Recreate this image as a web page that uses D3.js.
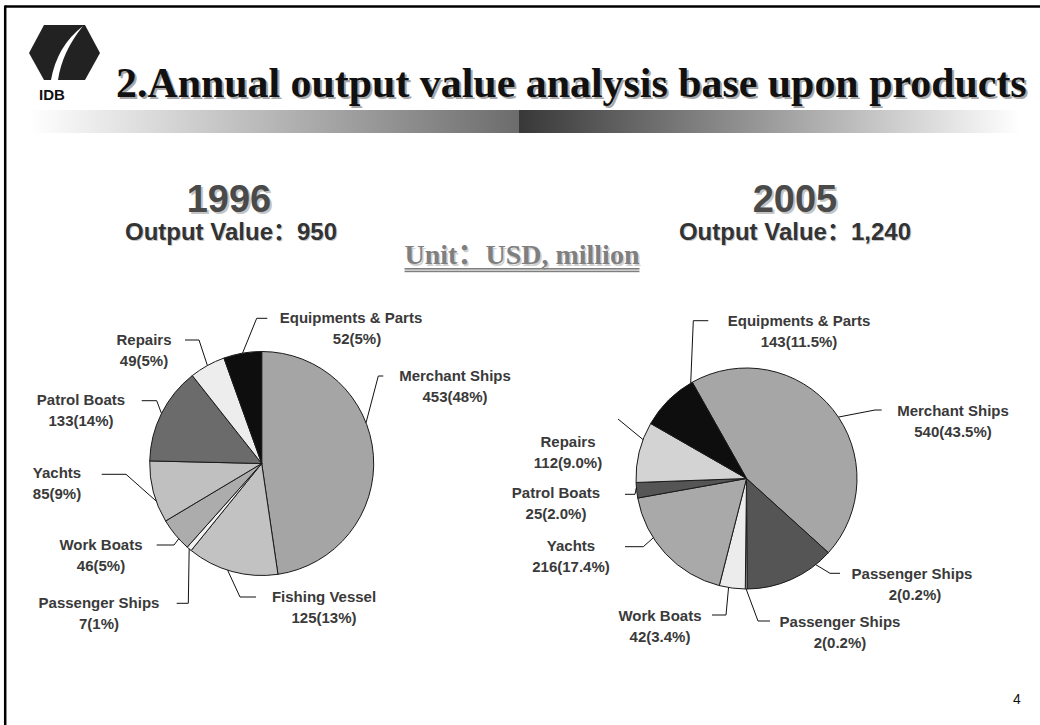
<!DOCTYPE html>
<html><head><meta charset="utf-8">
<script src="https://cdn.jsdelivr.net/npm/d3@7"></script>
<style>
html,body{margin:0;padding:0;background:#fff;}
svg{display:block;}
</style></head>
<body>
<svg id="chart" width="1040" height="725"></svg>
<script>
// ---------------- DATA ----------------
const titleText = "2.Annual output value analysis base upon products";
const unitText = "Unit\uFF1AUSD, million";
const years = ["1996", "2005"];
const totals = ["950", "1,240"];

const categories1996 = ["Merchant Ships","Fishing Vessel","Passenger Ships","Work Boats","Yachts","Patrol Boats","Repairs","Equipments & Parts"];
const values1996 = [453, 125, 7, 46, 85, 133, 49, 52];

// 2005: label texts as printed, and slice sizes as drawn in the picture
const categories2005 = ["Merchant Ships","Passenger Ships","Passenger Ships","Work Boats","Yachts","Patrol Boats","Repairs","Equipments & Parts"];
const labelValues2005 = [540, 2, 2, 42, 216, 25, 112, 143];
const labelPct2005 = [43.5, 0.2, 0.2, 3.4, 17.4, 2.0, 9.0, 11.5];
const sliceValues2005 = [557, 164, 3, 47, 226, 28, 110, 106];

// ---------------- STYLE / LAYOUT ----------------
const colors1996 = ["#a5a5a5","#c2c2c2","#f2f2f2","#acacac","#c0c0c0","#6b6b6b","#ededed","#0e0e0e"];
const colors2005 = ["#a6a6a6","#555555","#f5f5f5","#ececec","#a9a9a9","#555555","#d3d3d3","#0e0e0e"];

const pieLayout = [
  {cx: 261.7, cy: 463.5, r: 112, start: 0},
  {cx: 746.5, cy: 478.5, r: 110.5, start: -29.4 * Math.PI / 180}
];
// label layout: text centre x, first baseline y, leader start, elbow, fraction of slice where leader meets the rim
const labelLayout1996 = [
  {x: 455, y: 381, p0: [383.3, 376], p1: [378.3, 376], t: 0.40},
  {x: 324, y: 602, p0: [256, 597], p1: [240, 597], t: 0.55},
  {x: 99,  y: 608, p0: [176.7, 603.3], p1: [188.3, 603.3], t: 0.5},
  {x: 101, y: 550, p0: [156.7, 545], p1: [174, 545], t: 0.35},
  {x: 57,  y: 478, p0: [101.7, 474.3], p1: [126, 474.3], t: 0.35},
  {x: 81,  y: 405, p0: [141.7, 400.7], p1: [156.7, 400.7], t: 0.5},
  {x: 144, y: 345, p0: [185, 340], p1: [199, 340], t: 0.5},
  {x: 351, y: 323, x2: 357, p0: [267.3, 318.3], p1: [256.7, 318.3], t: 0.5}
];
const labelLayout2005 = [
  {x: 953, y: 416, p0: [881.7, 410], p1: [875, 410], t: 0.53},
  {x: 912, y: 579, x2: 915, p0: [840, 573.3], p1: [830, 573.3], t: 0.19},
  {x: 840, y: 627, p0: [770, 621], p1: [758, 621], t: 0.5},
  {x: 660, y: 621, p0: [712, 615], p1: [726, 615], t: 0.64},
  {x: 571, y: 551, p0: [625, 546.7], p1: [643.3, 546.7], t: 0.66},
  {x: 556, y: 498, p0: [625, 494.3], p1: [635, 494.3], t: 0.67},
  {x: 568, y: 447, p0: [618, 419], p1: [618, 419], t: 0.71},
  {x: 799, y: 326, p0: [708.3, 320.7], p1: [693.3, 320.7], t: 0.97}
];

const sans = "'Liberation Sans', Arial, 'Noto Sans CJK SC', sans-serif";
const serif = "'Liberation Serif', 'Times New Roman', 'Noto Sans CJK SC', serif";

// ---------------- DRAW ----------------
const svg = d3.select("#chart");

// frame lines
svg.append("line").attr("x1", 5).attr("x2", 1040).attr("y1", 6.5).attr("y2", 6.5)
  .attr("stroke", "#000").attr("stroke-width", 2.5);
svg.append("line").attr("x1", 5.2).attr("x2", 5.2).attr("y1", 5.5).attr("y2", 725)
  .attr("stroke", "#000").attr("stroke-width", 2.5);

// gradient bar
const defs = svg.append("defs");
const gl = defs.append("linearGradient").attr("id", "gl").attr("x1", "0").attr("x2", "1").attr("y1", "0").attr("y2", "0");
gl.append("stop").attr("offset", "0").attr("stop-color", "#ffffff");
gl.append("stop").attr("offset", "1").attr("stop-color", "#6c6c6c");
const gr = defs.append("linearGradient").attr("id", "gr").attr("x1", "0").attr("x2", "1").attr("y1", "0").attr("y2", "0");
gr.append("stop").attr("offset", "0").attr("stop-color", "#383838");
gr.append("stop").attr("offset", "1").attr("stop-color", "#ffffff");
svg.append("rect").attr("x", 30).attr("y", 110).attr("width", 489).attr("height", 23).attr("fill", "url(#gl)");
svg.append("rect").attr("x", 519).attr("y", 110).attr("width", 501).attr("height", 23).attr("fill", "url(#gr)");

// logo
const logo = svg.append("g");
logo.append("path").attr("d", "M29,53 L44,25 L85,25 L100,53 L85,80 L44,80 Z").attr("fill", "#222");
logo.append("path").attr("d", "M83,26 Q57,46 51,80 L58,80 Q62,52 83,26 Z").attr("fill", "#fff");
logo.append("text").attr("x", 52).attr("y", 100).attr("text-anchor", "middle")
  .attr("font-family", sans).attr("font-weight", "bold").attr("font-size", 15).attr("fill", "#111").text("IDB");

// text with shadow
function shadowText(x, y, txt, family, size, fill, shadow, anchor, off) {
  const g = svg.append("g");
  [[off, shadow], [0, fill]].forEach(([o, c]) => {
    g.append("text").attr("x", x + o).attr("y", y + o).attr("text-anchor", anchor)
      .attr("font-family", family).attr("font-weight", "bold").attr("font-size", size)
      .attr("fill", c).text(txt);
  });
  return g;
}
const tg = shadowText(116, 97, titleText, serif, 42, "#111", "#a8a8a8", "start", 2);
const tw = tg.select("text").node().getComputedTextLength();
tg.selectAll("text").attr("font-size", 42 * 911 / tw);

// year headers
const yearX = [229, 795];
const valueX = [231, 795];
years.forEach((yr, i) => {
  shadowText(yearX[i], 212, yr, sans, 38, "#4a4a4a", "#c4c4c4", "middle", 2);
  shadowText(valueX[i], 240, "Output Value\uFF1A" + totals[i], sans, 24, "#333", "#c8c8c8", "middle", 1);
});

// unit
const ug = shadowText(522, 264, unitText, serif, 28, "#7f7f7f", "#d0d0d0", "middle", 1.5);
const uw = ug.select("text").node().getComputedTextLength();
svg.append("rect").attr("x", 522 - uw / 2).attr("y", 268).attr("width", uw).attr("height", 1.6).attr("fill", "#7f7f7f");
svg.append("rect").attr("x", 522 - uw / 2).attr("y", 270.6).attr("width", uw).attr("height", 1.6).attr("fill", "#7f7f7f");

// pies
function drawPie(idx, values, colors, labels, layout) {
  const L = pieLayout[idx];
  const pie = d3.pie().sort(null).value(d => d).startAngle(L.start).endAngle(L.start + 2 * Math.PI);
  const arcs = pie(values);
  const arc = d3.arc().innerRadius(0).outerRadius(L.r);
  const g = svg.append("g").attr("transform", `translate(${L.cx},${L.cy})`);
  g.selectAll("path").data(arcs).join("path")
    .attr("d", arc).attr("fill", (d, i) => colors[i])
    .attr("stroke", "#1a1a1a").attr("stroke-width", 1).attr("stroke-linejoin", "round");

  arcs.forEach((a, i) => {
    const lay = layout[i];
    const ang = a.startAngle + (a.endAngle - a.startAngle) * lay.t;
    const ex = L.cx + L.r * Math.sin(ang), ey = L.cy - L.r * Math.cos(ang);
    svg.append("polyline")
      .attr("points", [lay.p0, lay.p1, [ex, ey]].map(p => p.join(",")).join(" "))
      .attr("fill", "none").attr("stroke", "#111").attr("stroke-width", 1);
    const lines = labels[i];
    lines.forEach((ln, j) => {
      svg.append("text")
        .attr("x", j === 1 && lay.x2 !== undefined ? lay.x2 : lay.x)
        .attr("y", lay.y + j * 20.5)
        .attr("text-anchor", "middle").attr("font-family", sans).attr("font-weight", "bold")
        .attr("font-size", 15).attr("fill", "#3a3a3a").text(ln);
    });
  });
}

const total1996 = d3.sum(values1996);
const labels1996 = categories1996.map((c, i) => [c, values1996[i] + "(" + Math.round(values1996[i] / total1996 * 100) + "%)"]);
const labels2005 = categories2005.map((c, i) => [c, labelValues2005[i] + "(" + d3.format(".1f")(labelPct2005[i]) + "%)"]);

drawPie(0, values1996, colors1996, labels1996, labelLayout1996);
drawPie(1, sliceValues2005, colors2005, labels2005, labelLayout2005);

// page number
svg.append("text").attr("x", 1017).attr("y", 704).attr("text-anchor", "middle")
  .attr("font-family", sans).attr("font-size", 14).attr("fill", "#111").text("4");
</script>
</body></html>
